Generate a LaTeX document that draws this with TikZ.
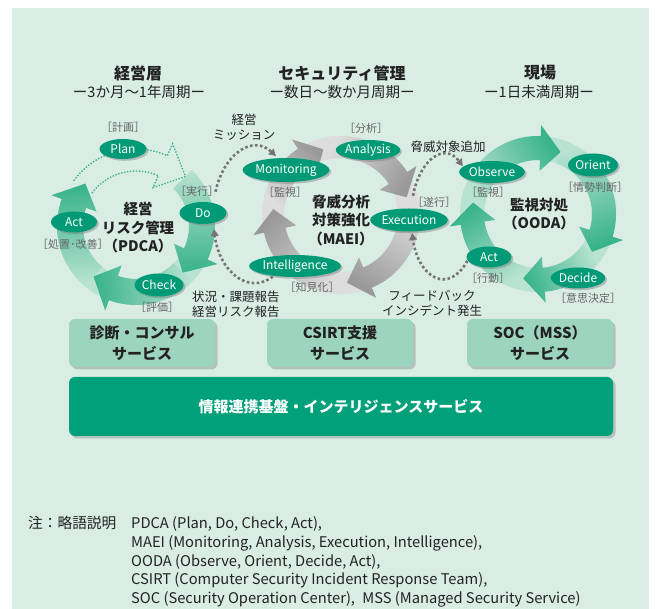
\documentclass[tikz,border=0pt]{standalone}
\usepackage{fontspec}
\setmainfont{Noto Sans CJK JP}
\usetikzlibrary{shapes.geometric,shadows,arrows.meta}
\definecolor{bg}{HTML}{D9EDE5}
\definecolor{txt}{HTML}{222222}
\definecolor{ndgreen}{HTML}{009B76}
\definecolor{svcfill}{HTML}{9DD4BF}
\definecolor{boxgreen}{HTML}{00A07A}
\definecolor{ringdark}{HTML}{38B38A}
\definecolor{ringlight}{HTML}{B8E2D2}
\definecolor{graydark}{HTML}{999999}
\definecolor{graylight}{HTML}{DDDDDD}
\definecolor{dotgray}{HTML}{747474}
\definecolor{dotgreen}{HTML}{3DB58E}
\tikzset{
  ttl/.style={font=\bfseries\fontsize{16}{19}\selectfont, text=txt, inner sep=0pt},
  subttl/.style={font=\fontsize{14.5}{17}\selectfont, text=txt, inner sep=0pt},
  ctr/.style={font=\bfseries\fontsize{14.5}{18.5}\selectfont, text=txt, align=center, inner sep=0pt},
  brk/.style={font=\fontsize{11}{13}\selectfont, text=black!60, inner sep=0pt},
  lbl/.style={font=\fontsize{12.5}{15}\selectfont, text=txt, inner sep=0pt},
  oval/.style={ellipse, fill=ndgreen, text=white, font=\fontsize{12}{14}\selectfont, inner sep=0pt,
    drop shadow={shadow xshift=1.8pt, shadow yshift=-1.8pt, opacity=.45}},
  svc/.style={rounded corners=6pt, fill=svcfill, align=center, text=txt,
    font=\bfseries\fontsize{15}{21}\selectfont, inner sep=0pt,
    drop shadow={shadow xshift=2.5pt, shadow yshift=-2.5pt, opacity=.4}},
  bigbox/.style={rounded corners=6pt, fill=boxgreen, text=white,
    font=\bfseries\fontsize{15}{18}\selectfont, inner sep=0pt,
    drop shadow={shadow xshift=2.5pt, shadow yshift=-2.5pt, opacity=.4}},
  dotc/.style={dotgray, line width=2.6pt, dash pattern=on 2.6pt off 2.4pt,
    -{Triangle[length=7pt,width=7.5pt]}},
  pdcadot/.style={dotgreen, line width=1.4pt, dash pattern=on 1.4pt off 1.6pt},
  note/.style={font=\fontsize{14.7}{18}\selectfont, text=txt, inner sep=0pt, anchor=base west},
}
% ring segment: #1 start angle, #2 tip angle, #3 tail colour, #4 head colour
\newcommand\ringseg[4]{%
  \pgfmathsetmacro\sa{-((#1+#2)/2)-180}%
  \pgfmathsetmacro\hb{#2-\HL}%
  \shade[bottom color=#3, top color=#4, shading angle=\sa]
    plot[domain=#1:\hb, samples=30] ({\CX+(\RR+\HW)*cos(\x)},{\CY+(\RR+\HW)*sin(\x)})
    -- ({\CX+(\RR+\HH)*cos(\hb)},{\CY+(\RR+\HH)*sin(\hb)})
    -- ({\CX+\RR*cos(#2)},{\CY+\RR*sin(#2)})
    -- ({\CX+(\RR-\HH)*cos(\hb)},{\CY+(\RR-\HH)*sin(\hb)})
    -- plot[domain=\hb:#1, samples=30] ({\CX+(\RR-\HW)*cos(\x)},{\CY+(\RR-\HW)*sin(\x)})
    -- cycle;
}
\begin{document}
\begin{tikzpicture}[x=1pt, y=-1pt]
\useasboundingbox (0,0) rectangle (657,609);
\fill[white] (0,0) rectangle (657,609);
\fill[bg] (12,8) rectangle (649,609);

% ---------- titles ----------
\node[ttl] (t1) at (138,73) {経営層};
\node[subttl] (s1) at (139,92) {ー3か月～1年周期ー};
\node[ttl] (t2) at (342,73) {セキュリティ管理};
\node[subttl] (s2) at (342,92) {ー数日～数か月周期ー};
\node[ttl] (t3) at (540,73) {現場};
\node[subttl] (s3) at (539,92) {ー1日未満周期ー};

% ---------- PDCA ring ----------
\def\CX{136}\def\CY{226}\def\RR{66}\def\HW{13}\def\HL{20}\def\HH{24}
\draw[ringlight, line width=26pt] plot[domain=315:560, samples=80] ({\CX+\RR*cos(\x)},{\CY+\RR*sin(\x)});
\ringseg{315}{405}{ringlight}{ringdark}
\ringseg{45}{130}{ringlight}{ringdark}
\ringseg{130}{220}{ringlight}{ringdark}
% dotted (planned) hollow arrow
\def\HW{11}
\draw[pdcadot] plot[domain=216:294, samples=30] ({\CX+(\RR+\HW)*cos(\x)},{\CY+(\RR+\HW)*sin(\x)})
  -- ({\CX+(\RR+\HH)*cos(294)},{\CY+(\RR+\HH)*sin(294)})
  -- ({\CX+(\RR+4)*cos(315)},{\CY+(\RR+4)*sin(315)})
  -- ({\CX+(\RR-\HH)*cos(294)},{\CY+(\RR-\HH)*sin(294)})
  -- plot[domain=294:216, samples=30] ({\CX+(\RR-\HW)*cos(\x)},{\CY+(\RR-\HW)*sin(\x)});

% ---------- MAEI ring ----------
\def\CX{341}\def\CY{215}\def\RR{68}\def\HW{11}\def\HL{18}\def\HH{22}
\draw[graylight, line width=22pt] plot[domain=0:360, samples=90] ({\CX+\RR*cos(\x)},{\CY+\RR*sin(\x)}) -- cycle;
\ringseg{185}{255}{graylight}{graydark}
\ringseg{255}{345}{graylight}{graydark}
\ringseg{345}{445}{graylight}{graydark}
\ringseg{445}{545}{graylight}{graydark}

% ---------- OODA ring ----------
\def\CX{538}\def\CY{214}\def\RR{66}\def\HW{12}\def\HL{18}\def\HH{23}
\draw[ringlight, line width=24pt] plot[domain=0:360, samples=90] ({\CX+\RR*cos(\x)},{\CY+\RR*sin(\x)}) -- cycle;
\ringseg{190}{290}{ringlight}{ringdark}
\ringseg{290}{395}{ringlight}{ringdark}
\ringseg{395}{463}{ringlight}{ringdark}
\ringseg{463}{550}{ringlight}{ringdark}

% ---------- dotted connectors ----------
\coordinate (a1s) at (215.5,191.7);
\coordinate (a1e) at (276,156.1);
\draw[dotc] (a1s) .. controls (224.4,152) and (253.4,135) .. (a1e);
\coordinate (b1s) at (272.8,276.6);
\coordinate (b1e) at (213.9,229.1);
\draw[dotc] (b1s) .. controls (248.3,295.1) and (219.5,271.9) .. (b1e);
\coordinate (a2s) at (413,195.8);
\coordinate (a2e) at (462.9,166.2);
\draw[dotc] (a2s) .. controls (420.4,157.5) and (445.2,142.8) .. (a2e);
\coordinate (b2s) at (467.3,260.8);
\coordinate (b2e) at (412.1,233.1);
\draw[dotc] (b2s) .. controls (449.4,294.5) and (418.6,279.2) .. (b2e);

% ---------- cycle nodes ----------
\node[oval, minimum width=47pt, minimum height=20pt] (plan) at (123,149) {Plan};
\node[oval, minimum width=47pt, minimum height=22pt] (do) at (203,213) {Do};
\node[oval, minimum width=46pt, minimum height=21pt] (act) at (74,222) {Act};
\node[oval, minimum width=49pt, minimum height=23pt] (check) at (159,285) {Check};

\node[oval, minimum width=69pt, minimum height=24pt] (mon) at (286,170) {Monitoring};
\node[oval, minimum width=48pt, minimum height=20pt] (ana) at (368,150) {Analysis};
\node[oval, minimum width=62pt, minimum height=23pt] (exe) at (409,220) {Execution};
\node[oval, minimum width=69pt, minimum height=22pt] (intel) at (295,266) {Intelligence};

\node[oval, minimum width=60pt, minimum height=22pt] (obs) at (492,172) {Observe};
\node[oval, minimum width=47pt, minimum height=23pt] (ori) at (593,165) {Orient};
\node[oval, minimum width=51pt, minimum height=21pt] (dec) at (578,278) {Decide};
\node[oval, minimum width=45pt, minimum height=21pt] (oact) at (489,257) {Act};

% ---------- bracket labels ----------
\node[brk] (bplan) at (123,127) {［計画］};
\node[brk] (bdo) at (197,191) {［実行］};
\node[brk] (bact) at (73,244) {［処置･改善］};
\node[brk] (bcheck) at (157,307) {［評価］};
\node[brk] (bmon) at (285,192) {［監視］};
\node[brk] (bana) at (366,128) {［分析］};
\node[brk] (bexe) at (434,202) {［遂行］};
\node[brk] (bint) at (312,287) {［知見化］};
\node[brk] (bobs) at (488,192) {［監視］};
\node[brk] (bori) at (595,187) {［情勢判断］};
\node[brk] (bdec) at (588,298) {［意思決定］};
\node[brk] (boact) at (488,278) {［行動］};

% ---------- centre texts ----------
\node[ctr] (cpdca) at (138,228) {経営\\リスク管理\\（PDCA）};
\node[ctr] (cmaei) at (341,220) {脅威分析\\対策強化\\（MAEI）};
\node[ctr] (cooda) at (539,214) {監視対処\\（OODA）};

% ---------- connector labels ----------
\node[lbl, align=center] (lmis) at (244,127.5) {経営\\ミッション};
\node[lbl] (lthr) at (448,147) {脅威対象追加};
\node[lbl, align=left, anchor=west] (lrep) at (192,304.5) {状況・課題報告\\経営リスク報告};
\node[lbl, align=center] (lfb) at (432,303) {フィードバック\\インシデント発生};

% ---------- service boxes ----------
\node[svc, minimum width=146pt, minimum height=48pt] (svc1) at (142,343) {診断・コンサル\\サービス};
\node[svc, minimum width=146pt, minimum height=48pt] (svc2) at (340,343) {CSIRT支援\\サービス};
\node[svc, minimum width=146pt, minimum height=48pt] (svc3) at (540,343) {SOC（MSS）\\サービス};
\node[bigbox, minimum width=544pt, minimum height=59pt] (base) at (341,406.5) {情報連携基盤・インテリジェンスサービス};

% ---------- footnote ----------
\node[note] (nh) at (28,529) {注：略語説明};
\node[note] (n1) at (131,529) {PDCA (Plan, Do, Check, Act),};
\node[note] (n2) at (131,548) {MAEI (Monitoring, Analysis, Execution, Intelligence),};
\node[note] (n3) at (131,567) {OODA (Observe, Orient, Decide, Act),};
\node[note] (n4) at (131,585) {CSIRT (Computer Security Incident Response Team),};
\node[note] (n5) at (131,604) {SOC (Security Operation Center),\enspace MSS (Managed Security Service)};
\end{tikzpicture}
\end{document}
